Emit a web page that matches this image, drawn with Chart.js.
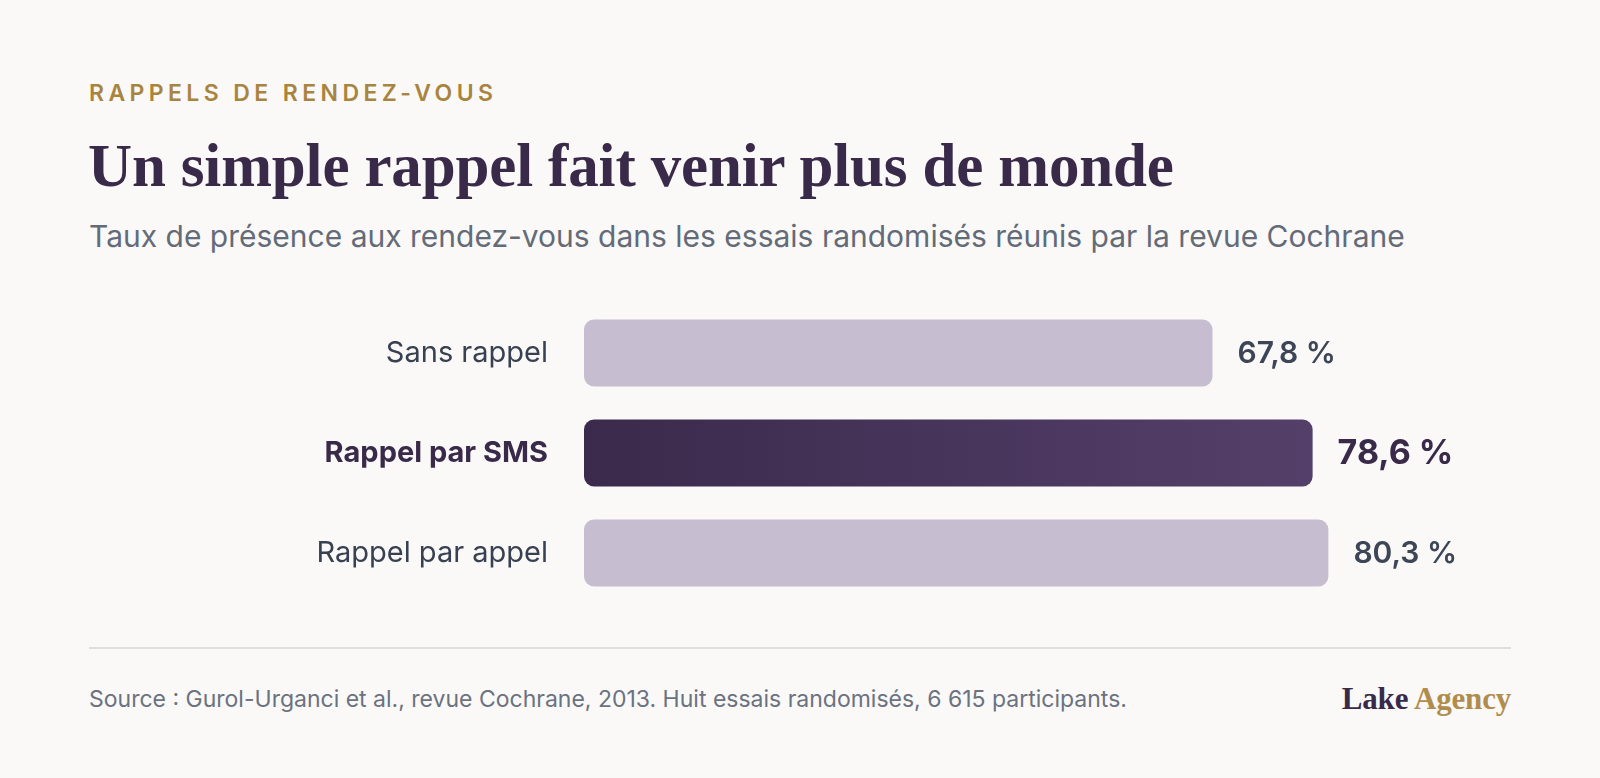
<!DOCTYPE html>
<html lang="fr">
<head>
<meta charset="utf-8">
<title>Rappels de rendez-vous</title>
<script src="https://cdn.jsdelivr.net/npm/chart.js@4.4.1/dist/chart.umd.min.js"></script>
<style>
  html, body { margin: 0; padding: 0; }
  body { width: 1600px; height: 778px; background: #faf9f7; position: relative; overflow: hidden; font-family: Inter, "Noto Sans", sans-serif; }
  .abs { position: absolute; white-space: nowrap; line-height: 1; }
  #eyebrow { left: 89px; top: 82px; font-size: 23px; font-weight: 600; letter-spacing: 4.4px; color: #a8843f; }
  #title { left: 88px; top: 135px; font-family: "Liberation Serif", "DejaVu Serif", serif; font-weight: 700; font-size: 61px; letter-spacing: -0.15px; color: #3a2a4a; }
  #subtitle { left: 89px; top: 221px; font-size: 30px; color: #646b78; }
  #chart { position: absolute; left: 0; top: 303px; }
  #rule { position: absolute; left: 89px; top: 647px; width: 1422px; height: 2px; background: #dedde0; }
  #source { left: 89px; top: 688px; font-size: 23px; color: #6b7280; }
  #brand { right: 89px; top: 683px; font-family: "Liberation Serif", "DejaVu Serif", serif; font-weight: 700; font-size: 31px; letter-spacing: -0.2px; color: #3a2a4a; }
  #brand span { color: #b08d4c; }
</style>
</head>
<body>
  <div id="eyebrow" class="abs">RAPPELS DE RENDEZ-VOUS</div>
  <div id="title" class="abs">Un simple rappel fait venir plus de monde</div>
  <div id="subtitle" class="abs">Taux de présence aux rendez-vous dans les essais randomisés réunis par la revue Cochrane</div>
  <canvas id="chart" width="1600" height="300"></canvas>
  <div id="rule"></div>
  <div id="source" class="abs">Source : Gurol-Urganci et al., revue Cochrane, 2013. Huit essais randomisés, 6 615 participants.</div>
  <div id="brand" class="abs">Lake <span>Agency</span></div>

<script>
  // Données
  const categories = ['Sans rappel', 'Rappel par SMS', 'Rappel par appel'];
  const attendance = [67.8, 78.6, 80.3];
  const valueLabels = ['67,8 %', '78,6 %', '80,3 %'];
  const highlightIndex = 1;

  const COLORS = {
    bar: '#c6bdd0',
    barDarkStart: '#3b2a4c',
    barDarkEnd: '#5b4572',
    label: '#384152',
    labelStrong: '#3a2a4a',
    value: '#3d4657'
  };

  function barColor(ctx) {
    if (ctx.dataIndex !== highlightIndex) return COLORS.bar;
    const { chart } = ctx;
    const area = chart.chartArea;
    if (!area) return COLORS.barDarkStart;
    const el = chart.getDatasetMeta(0).data[highlightIndex];
    const x1 = el && isFinite(el.x) ? el.x : area.right;
    const g = chart.ctx.createLinearGradient(area.left, 0, x1, 0);
    g.addColorStop(0, COLORS.barDarkStart);
    g.addColorStop(1, COLORS.barDarkEnd);
    return g;
  }

  // Étiquettes de valeur au bout des barres
  const valueLabelPlugin = {
    id: 'valueLabels',
    afterDatasetsDraw(chart) {
      const { ctx } = chart;
      const meta = chart.getDatasetMeta(0);
      ctx.save();
      ctx.textBaseline = 'middle';
      ctx.textAlign = 'left';
      meta.data.forEach((bar, i) => {
        const strong = i === highlightIndex;
        ctx.font = strong ? '700 34px Inter' : '600 30px Inter';
        ctx.fillStyle = strong ? COLORS.labelStrong : COLORS.value;
        ctx.fillText(valueLabels[i], bar.x + 25, bar.y + 1);
      });
      ctx.restore();
    }
  };

  new Chart(document.getElementById('chart').getContext('2d'), {
    type: 'bar',
    data: {
      labels: categories,
      datasets: [{
        data: attendance,
        backgroundColor: barColor,
        borderRadius: 10,
        borderSkipped: false,
        categoryPercentage: 1,
        barPercentage: 0.67
      }]
    },
    options: {
      indexAxis: 'y',
      responsive: false,
      devicePixelRatio: 1,
      animation: false,
      layout: { padding: { left: 0, right: 89, top: 0, bottom: 0 } },
      scales: {
        x: { display: false, min: 0, max: 100 },
        y: {
          // largeur fixe pour la colonne des libellés, pas de marge verticale
          afterFit(scale) {
            scale.width = 584;
            scale.paddingTop = 0;
            scale.paddingBottom = 0;
          },
          grid: { display: false, drawTicks: false },
          border: { display: false },
          ticks: {
            padding: 36,
            color: (c) => c.index === highlightIndex ? COLORS.labelStrong : COLORS.label,
            font: (c) => c.index === highlightIndex
              ? { family: 'Inter', size: 29, weight: '700' }
              : { family: 'Inter', size: 29, weight: '400' }
          }
        }
      },
      plugins: {
        legend: { display: false },
        tooltip: { enabled: false }
      }
    },
    plugins: [valueLabelPlugin]
  });
</script>
</body>
</html>
